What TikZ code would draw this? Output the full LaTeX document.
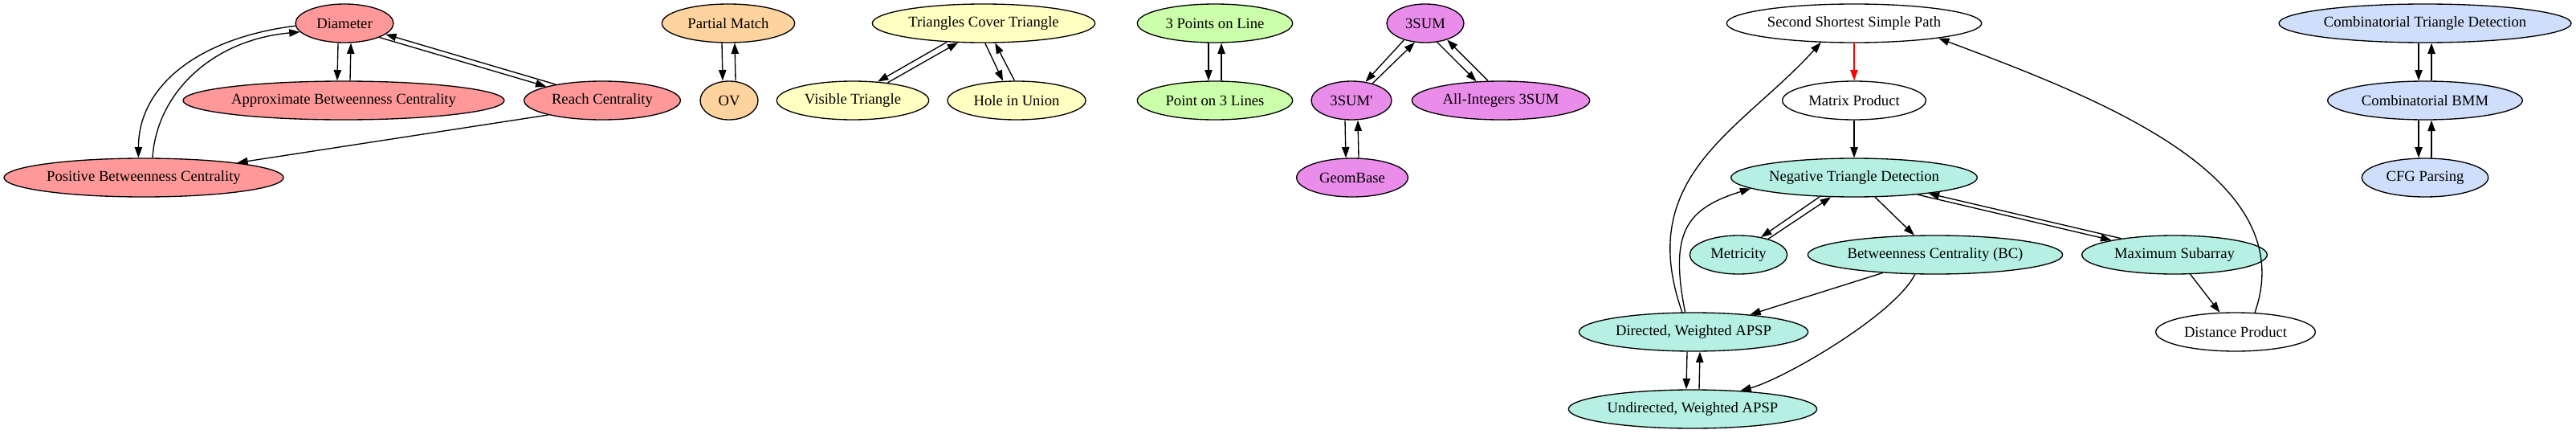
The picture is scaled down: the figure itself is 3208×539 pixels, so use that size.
\documentclass[tikz,border=0pt]{standalone}
\usepackage{fontspec}
\setmainfont{Liberation Serif}
\usepackage{xcolor}
\usetikzlibrary{arrows.meta}
\usetikzlibrary{shapes.geometric}
\definecolor{redfill}{RGB}{255,153,153}
\definecolor{orangefill}{RGB}{255,211,158}
\definecolor{yellowfill}{RGB}{255,255,194}
\definecolor{greenfill}{RGB}{204,255,170}
\definecolor{violetfill}{RGB}{234,140,234}
\definecolor{tealfill}{RGB}{181,240,226}
\definecolor{bluefill}{RGB}{207,222,250}

\begin{document}
\begin{tikzpicture}[x=0.75pt, y=-0.75pt,
        ell/.style={ellipse, draw, line width=1pt, inner sep=0pt, minimum height=36pt, font=\fontsize{14}{16}\selectfont},
        arr/.style={-{Triangle[length=10pt, width=7pt]}, line width=1pt}]
            \useasboundingbox (0, 0) rectangle (3208, 539);

            \node[ell, fill=redfill, minimum width=91.5pt] (dia) at (429, 29) {Diameter};
            \node[ell, fill=redfill, minimum width=300pt] (abc) at (428, 125) {Approximate Betweenness Centrality};
            \node[ell, fill=redfill, minimum width=146pt] (rch) at (750, 125) {Reach Centrality};
            \node[ell, fill=redfill, minimum width=261pt] (pbc) at (179, 221) {Positive Betweenness Centrality};
            \draw[arr] ([xshift=-6pt]dia.south) -- ([xshift=-6pt]abc.north);
            \draw[arr] ([xshift=6pt]abc.north) -- ([xshift=6pt]dia.south);
            \draw[arr] (dia.-22) -- (rch.166);
            \draw[arr] (rch.161) -- (dia.-15);
            \draw[arr] (dia.183) .. controls +(-120, 15) and +(0, -90) .. (pbc.105);
            \draw[arr] (pbc.66) .. controls +(5, -80) and +(-110, 10) .. (dia.191);
            \draw[arr] (rch.195) -- (pbc.9);

            \node[ell, fill=orangefill, minimum width=124pt] (pm) at (907, 29) {Partial Match};
            \node[ell, fill=orangefill, minimum width=54pt] (ov) at (908, 125) {OV};
            \draw[arr] ([xshift=-6pt]pm.south) -- ([xshift=-6pt]ov.north);
            \draw[arr] ([xshift=6pt]ov.north) -- ([xshift=6pt]pm.south);

            \node[ell, fill=yellowfill, minimum width=208pt] (tct) at (1225, 29) {Triangles Cover Triangle};
            \node[ell, fill=yellowfill, minimum width=142pt] (vis) at (1062, 125) {Visible Triangle};
            \node[ell, fill=yellowfill, minimum width=129pt] (hole) at (1266, 125) {Hole in Union};
            \draw[arr] (tct.207) -- (vis.37);
            \draw[arr] (vis.27) -- (tct.217);
            \draw[arr] (tct.274) -- (hole.125);
            \draw[arr] (hole.96) -- (tct.300);

            \node[ell, fill=greenfill, minimum width=145pt] (tpl) at (1513, 29) {3 Points on Line};
            \node[ell, fill=greenfill, minimum width=145pt] (ptl) at (1513, 125) {Point on 3 Lines};
            \draw[arr] ([xshift=-6pt]tpl.south) -- ([xshift=-6pt]ptl.north);
            \draw[arr] ([xshift=6pt]ptl.north) -- ([xshift=6pt]tpl.south);

            \node[ell, fill=violetfill, minimum width=72pt] (sum) at (1775, 29) {3SUM};
            \node[ell, fill=violetfill, minimum width=75pt] (sump) at (1683, 125) {3SUM\textquotesingle};
            \node[ell, fill=violetfill, minimum width=166pt] (allint) at (1869, 125) {All-Integers 3SUM};
            \node[ell, fill=violetfill, minimum width=104pt] (geom) at (1684, 221) {GeomBase};
            \draw[arr] (sum.218) -- (sump.53);
            \draw[arr] (sump.39) -- (sum.241);
            \draw[arr] (sum.302) -- (allint.142);
            \draw[arr] (allint.123) -- (sum.323);
            \draw[arr] ([xshift=-6pt]sump.south) -- ([xshift=-6pt]geom.north);
            \draw[arr] ([xshift=6pt]geom.north) -- ([xshift=6pt]sump.south);

            \node[ell, fill=white, minimum width=238pt] (sssp) at (2309, 29) {Second Shortest Simple Path};
            \node[ell, fill=white, minimum width=134pt] (mp) at (2309, 125) {Matrix Product};
            \node[ell, fill=tealfill, minimum width=230pt] (ntd) at (2309, 221) {Negative Triangle Detection};
            \node[ell, fill=tealfill, minimum width=91pt] (met) at (2165, 317) {Metricity};
            \node[ell, fill=tealfill, minimum width=238pt] (bc) at (2410, 317) {Betweenness Centrality (BC)};
            \node[ell, fill=tealfill, minimum width=173pt] (msa) at (2708, 317) {Maximum Subarray};
            \node[ell, fill=tealfill, minimum width=214pt] (dir) at (2109, 413) {Directed, Weighted APSP};
            \node[ell, fill=white, minimum width=149pt] (dp) at (2784, 413) {Distance Product};
            \node[ell, fill=tealfill, minimum width=232pt] (und) at (2108, 509) {Undirected, Weighted APSP};
            \draw[arr, red] (sssp) -- (mp);
            \draw[arr] (mp) -- (ntd);
            \draw[arr] (ntd.209) -- (met.38);
            \draw[arr] (met.28) -- (ntd.220);
            \draw[arr] (ntd.317) -- (bc.137);
            \draw[arr] (ntd.345) -- (msa.167);
            \draw[arr] (msa.163) -- (ntd.348);
            \draw[arr] (bc.199) -- (dir.17);
            \draw[arr] (bc.224) .. controls +(-25, 50) and +(55, -15) .. (und.21);
            \draw[arr] ([xshift=-6pt]dir.south) -- ([xshift=-6pt]und.north);
            \draw[arr] ([xshift=6pt]und.north) -- ([xshift=6pt]dir.south);
            \draw[arr] (dir.120) .. controls +(-60, -170) and +(-100, 110) .. (sssp.210);
            \draw[arr] (dir.113) .. controls +(-20, -100) and +(-80, 25) .. (ntd.186);
            \draw[arr] (msa.309) -- (dp.129);
            \draw[arr] (dp.45) .. controls +(60, -170) and +(200, 75) .. (sssp.350);

            \node[ell, fill=bluefill, minimum width=273pt] (ctd) at (3020, 29) {Combinatorial Triangle Detection};
            \node[ell, fill=bluefill, minimum width=182pt] (cbmm) at (3020, 125) {Combinatorial BMM};
            \node[ell, fill=bluefill, minimum width=118pt] (cfg) at (3020, 221) {CFG Parsing};
            \draw[arr] ([xshift=-6pt]ctd.south) -- ([xshift=-6pt]cbmm.north);
            \draw[arr] ([xshift=6pt]cbmm.north) -- ([xshift=6pt]ctd.south);
            \draw[arr] ([xshift=-6pt]cbmm.south) -- ([xshift=-6pt]cfg.north);
            \draw[arr] ([xshift=6pt]cfg.north) -- ([xshift=6pt]cbmm.south);
        \end{tikzpicture}
\end{document}
